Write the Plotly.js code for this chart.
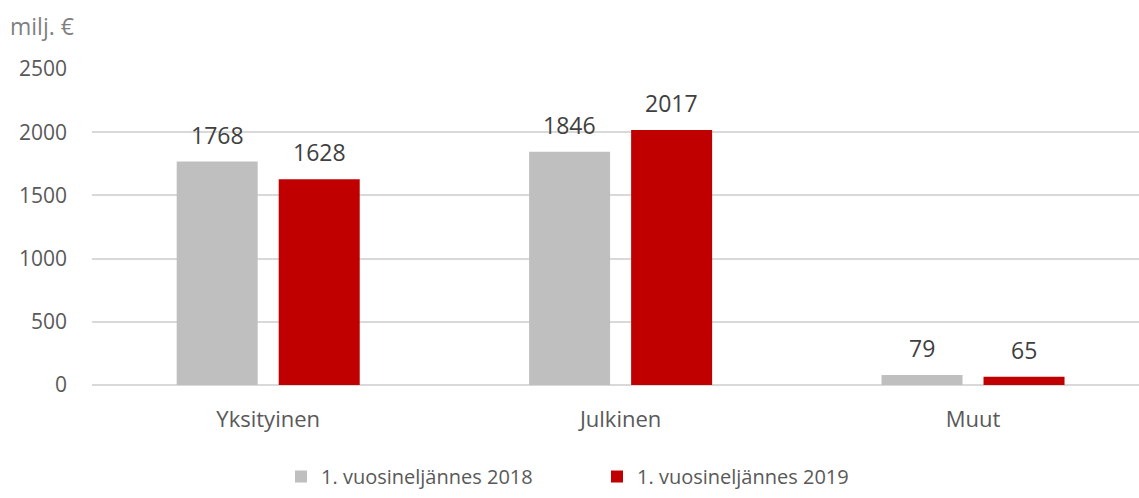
<!DOCTYPE html>
<html>
<head>
<meta charset="utf-8">
<script src="https://cdn.plot.ly/plotly-3.0.1.min.js"></script>
<style>html,body{margin:0;padding:0;background:#fff;}#chart{width:1139px;height:498px;}</style>
</head>
<body>
<div id="chart"></div>
<script>
const categories = ["Yksityinen", "Julkinen", "Muut"];
const seriesNames = ["1. vuosineljännes 2018", "1. vuosineljännes 2019"];
const values2018 = [1768, 1846, 79];
const values2019 = [1628, 2017, 65];
const yTicks = [0, 500, 1000, 1500, 2000, 2500];
const unitLabel = "milj. €";

const FONT = "Open Sans, sans-serif";
const colors = ["#bfbfbf", "#c00000"];
const series = [values2018, values2019];
const legendIds = ["legend", "legend2"];

const traces = series.map((vals, i) => ({
  type: "bar",
  name: seriesNames[i],
  legend: legendIds[i],
  x: categories,
  y: vals,
  marker: {color: colors[i]},
  hoverinfo: "x+y"
}));

const slotShift = 51;
const annotations = [];
series.forEach((vals, i) => {
  vals.forEach((v, j) => {
    annotations.push({
      x: categories[j], y: v, xref: "x", yref: "y",
      text: String(v), showarrow: false,
      xanchor: "center", yanchor: "bottom",
      xshift: (i === 0 ? -slotShift : slotShift), yshift: 9,
      font: {family: FONT, size: 23, color: "#404040"}
    });
  });
});
annotations.push({
  x: 0, y: 1, xref: "paper", yref: "paper", xshift: -84, yshift: 25,
  xanchor: "left", yanchor: "bottom", showarrow: false,
  text: unitLabel, font: {family: FONT, size: 23, color: "#7f7f7f"}
});

const legendBase = {orientation: "h", xref: "container", yref: "container", y: 0.004, yanchor: "bottom",
  xanchor: "left", font: {family: FONT, size: 20, color: "#595959"}, itemwidth: 30, bgcolor: "rgba(0,0,0,0)"};

const layout = {
  width: 1139, height: 498,
  margin: {l: 92, r: 0, t: 69, b: 113},
  paper_bgcolor: "#ffffff", plot_bgcolor: "#ffffff",
  barmode: "group", bargap: 0.421, bargroupgap: 0.206,
  showlegend: true,
  legend: Object.assign({}, legendBase, {x: 281 / 1139}),
  legend2: Object.assign({}, legendBase, {x: 597 / 1139}),
  xaxis: {type: "category", range: [-0.5, 2.471], showgrid: false, zeroline: false,
          showline: false, ticks: "", ticklabelstandoff: 19,
          tickfont: {family: FONT, size: 22, color: "#595959"}},
  yaxis: {range: [0, 2500], tickvals: yTicks, showgrid: true, gridcolor: "#d9d9d9", gridwidth: 2,
          zeroline: true, zerolinecolor: "#d9d9d9", zerolinewidth: 2, showline: false, ticks: "",
          ticklabelstandoff: 24,
          tickfont: {family: FONT, size: 21, color: "#595959"}},
  annotations: annotations,
  font: {family: FONT}
};

Plotly.newPlot("chart", traces, layout, {displayModeBar: false, staticPlot: true});
</script>
</body>
</html>
